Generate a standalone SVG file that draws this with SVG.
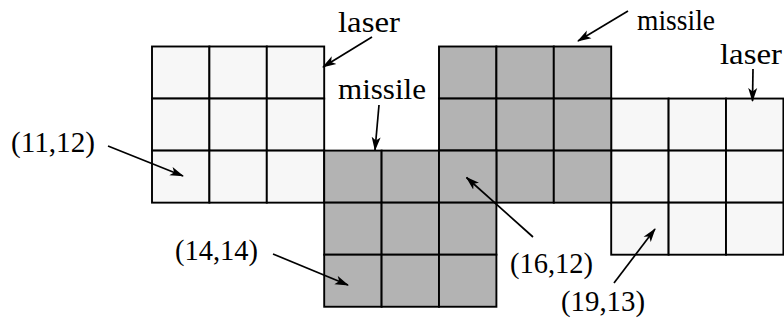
<svg xmlns="http://www.w3.org/2000/svg" width="784" height="322" viewBox="0 0 784 322">
<style>
.w{fill:#f7f7f7;stroke:#000;stroke-width:1.9}
.g{fill:#b3b3b3;stroke:#000;stroke-width:1.9}
.t{font-family:"Liberation Serif","Times New Roman",serif;font-size:30px;fill:#000}
.a{stroke:#000;stroke-width:1.7;fill:none;marker-end:url(#ah)}
</style>
<defs>
<marker id="ah" markerUnits="userSpaceOnUse" viewBox="0 0 14 10" refX="13" refY="5" markerWidth="14" markerHeight="10" orient="auto">
<path d="M0,0.5 L14,5 L0,9.5 L3.5,5 z" fill="#000"/>
</marker>
</defs>
<g id="left-white">
<rect class="w" x="152" y="46.5" width="57.4" height="52.05"/>
<rect class="w" x="209.4" y="46.5" width="57.4" height="52.05"/>
<rect class="w" x="266.8" y="46.5" width="57.4" height="52.05"/>
<rect class="w" x="152" y="98.55" width="57.4" height="52.05"/>
<rect class="w" x="209.4" y="98.55" width="57.4" height="52.05"/>
<rect class="w" x="266.8" y="98.55" width="57.4" height="52.05"/>
<rect class="w" x="152" y="150.6" width="57.4" height="52.05"/>
<rect class="w" x="209.4" y="150.6" width="57.4" height="52.05"/>
<rect class="w" x="266.8" y="150.6" width="57.4" height="52.05"/>
</g>
<g id="right-white">
<rect class="w" x="611.2" y="98.55" width="57.4" height="52.05"/>
<rect class="w" x="668.6" y="98.55" width="57.4" height="52.05"/>
<rect class="w" x="726" y="98.55" width="57.4" height="52.05"/>
<rect class="w" x="611.2" y="150.6" width="57.4" height="52.05"/>
<rect class="w" x="668.6" y="150.6" width="57.4" height="52.05"/>
<rect class="w" x="726" y="150.6" width="57.4" height="52.05"/>
<rect class="w" x="611.2" y="202.65" width="57.4" height="52.05"/>
<rect class="w" x="668.6" y="202.65" width="57.4" height="52.05"/>
<rect class="w" x="726" y="202.65" width="57.4" height="52.05"/>
</g>
<g id="top-gray">
<rect class="g" x="439" y="46.5" width="57.4" height="52.05"/>
<rect class="g" x="496.4" y="46.5" width="57.4" height="52.05"/>
<rect class="g" x="553.8" y="46.5" width="57.4" height="52.05"/>
<rect class="g" x="439" y="98.55" width="57.4" height="52.05"/>
<rect class="g" x="496.4" y="98.55" width="57.4" height="52.05"/>
<rect class="g" x="553.8" y="98.55" width="57.4" height="52.05"/>
<rect class="g" x="439" y="150.6" width="57.4" height="52.05"/>
<rect class="g" x="496.4" y="150.6" width="57.4" height="52.05"/>
<rect class="g" x="553.8" y="150.6" width="57.4" height="52.05"/>
</g>
<g id="bottom-gray">
<rect class="g" x="324.2" y="150.6" width="57.4" height="52.05"/>
<rect class="g" x="381.6" y="150.6" width="57.4" height="52.05"/>
<rect class="g" x="439" y="150.6" width="57.4" height="52.05"/>
<rect class="g" x="324.2" y="202.65" width="57.4" height="52.05"/>
<rect class="g" x="381.6" y="202.65" width="57.4" height="52.05"/>
<rect class="g" x="439" y="202.65" width="57.4" height="52.05"/>
<rect class="g" x="324.2" y="254.7" width="57.4" height="52.05"/>
<rect class="g" x="381.6" y="254.7" width="57.4" height="52.05"/>
<rect class="g" x="439" y="254.7" width="57.4" height="52.05"/>
</g>
<g id="labels">
<text class="t" x="338" y="32" textLength="62" lengthAdjust="spacingAndGlyphs">laser</text>
<text class="t" x="338" y="99" textLength="88" lengthAdjust="spacingAndGlyphs">missile</text>
<text class="t" x="637" y="30" textLength="78" lengthAdjust="spacingAndGlyphs">missile</text>
<text class="t" x="720" y="64" textLength="62" lengthAdjust="spacingAndGlyphs">laser</text>
<text class="t" x="11" y="152" textLength="84" lengthAdjust="spacingAndGlyphs">(11,12)</text>
<text class="t" x="175" y="260" textLength="83" lengthAdjust="spacingAndGlyphs">(14,14)</text>
<text class="t" x="510" y="273" textLength="83" lengthAdjust="spacingAndGlyphs">(16,12)</text>
<text class="t" x="561" y="311" textLength="84" lengthAdjust="spacingAndGlyphs">(19,13)</text>
</g>
<g id="connectors">
<line class="a" x1="372" y1="37" x2="323" y2="67"/>
<line class="a" x1="628" y1="11" x2="578" y2="41"/>
<line class="a" x1="379" y1="105" x2="375" y2="150"/>
<line class="a" x1="753" y1="69" x2="752.5" y2="101"/>
<line class="a" x1="108" y1="146" x2="183" y2="176"/>
<line class="a" x1="273" y1="254" x2="348" y2="285"/>
<line class="a" x1="533" y1="237" x2="466.5" y2="177.5"/>
<line class="a" x1="614" y1="283" x2="655" y2="229"/>
</g>
</svg>
